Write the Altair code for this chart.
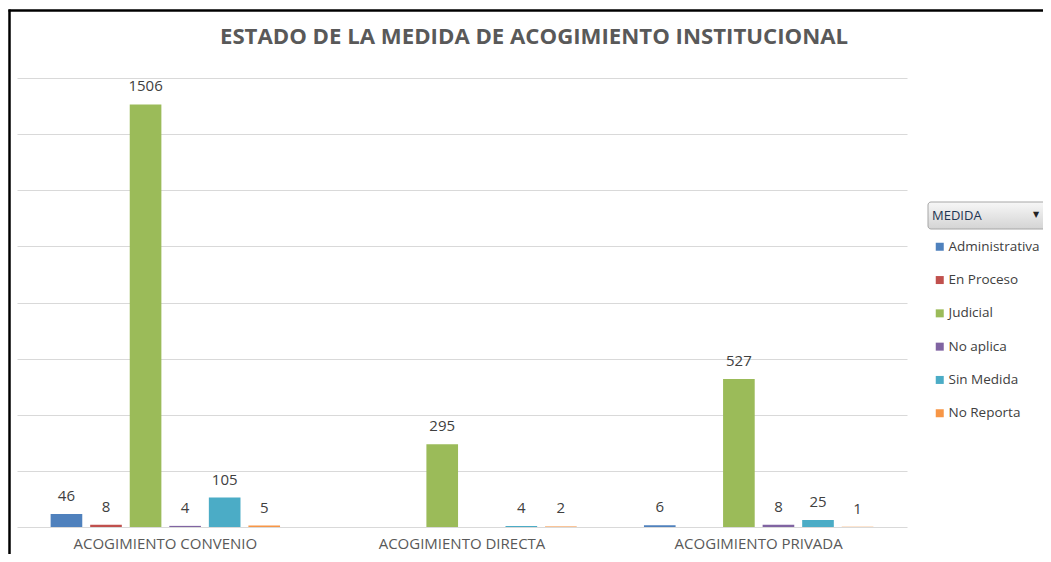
import altair as alt
import pandas as pd

title_text = "ESTADO DE LA MEDIDA DE ACOGIMIENTO INSTITUCIONAL"
categories = ["ACOGIMIENTO CONVENIO", "ACOGIMIENTO DIRECTA", "ACOGIMIENTO PRIVADA"]
series = ["Administrativa", "En Proceso", "Judicial", "No aplica", "Sin Medida", "No Reporta"]
colors = ["#4F81BD", "#C0504D", "#9BBB59", "#8064A2", "#4BACC6", "#F79646"]
convenio = [46, 8, 1506, 4, 105, 5]
directa = [None, None, 295, None, 4, 2]
privada = [6, None, 527, 8, 25, 1]
grid_values = [0, 200, 400, 600, 800, 1000, 1200, 1400, 1600]

rows = []
for cat, vals in zip(categories, [convenio, directa, privada]):
    for s, v in zip(series, vals):
        if v is not None:
            rows.append({"acogimiento": cat, "medida": s, "valor": v})
df = pd.DataFrame(rows)

FONT = "Open Sans"
W, H = 890, 449

x_enc = alt.X("acogimiento:N", sort=categories,
              scale=alt.Scale(paddingInner=0.2, paddingOuter=0.1),
              axis=alt.Axis(title=None, labelAngle=0, ticks=False, tickSize=0, domain=False,
                            labelPadding=9, labelFontSize=15, labelFont=FONT, labelLimit=400,
                            labelColor="#595959", grid=False))
xo_enc = alt.XOffset("medida:N", sort=series,
                     scale=alt.Scale(domain=series, paddingInner=0.2, paddingOuter=0.1))
y_enc = alt.Y("valor:Q", scale=alt.Scale(domain=[0, 1600], nice=False),
              axis=alt.Axis(title=None, labels=False, ticks=False, domain=False,
                            values=grid_values, grid=True, gridColor="#D9D9D9", gridWidth=1))

base = alt.Chart(df)
bars = base.mark_bar().encode(
    x=x_enc, xOffset=xo_enc, y=y_enc,
    color=alt.Color("medida:N", sort=series,
                    scale=alt.Scale(domain=series, range=colors),
                    legend=alt.Legend(title=None, orient="none", legendX=916, legendY=162,
                                      symbolType="square", symbolSize=64, symbolStrokeWidth=0,
                                      labelFont=FONT, labelFontSize=13.5, labelColor="#404040",
                                      labelOffset=2, rowPadding=18.3, padding=0, labelLimit=300)),
)
labels = base.mark_text(dy=-13, baseline="alphabetic", font=FONT, fontSize=15,
                        color="#404040").encode(
    x=x_enc, xOffset=xo_enc, y=y_enc, text=alt.Text("valor:Q"))

one = pd.DataFrame({"k": [0]})
border_left = alt.Chart(one).mark_rule(color="black", strokeWidth=2.5).encode(
    x=alt.value(-7.5), y=alt.value(-68.5), y2=alt.value(H + 40))
border_top = alt.Chart(one).mark_rule(color="black", strokeWidth=2.5).encode(
    x=alt.value(-8.5), x2=alt.value(W + 150), y=alt.value(-67.5))

title = alt.Chart(pd.DataFrame({"t": [title_text]})).mark_text(
    align="center", baseline="alphabetic", font=FONT, fontSize=22.2, fontWeight="bold",
    color="#595959"
).encode(x=alt.value(517), y=alt.value(-34), text="t:N")

header_box = alt.Chart(one).mark_rect(
    cornerRadius=3, stroke="#A6A6A6", strokeWidth=1,
    color=alt.Gradient(gradient="linear",
                       stops=[alt.GradientStop(color="#F7F7F7", offset=0),
                              alt.GradientStop(color="#D4D4D4", offset=1)],
                       x1=0, x2=0, y1=0, y2=1)
).encode(x=alt.value(911), x2=alt.value(1040), y=alt.value(124), y2=alt.value(151))
header_text = alt.Chart(pd.DataFrame({"t": ["MEDIDA"]})).mark_text(
    align="left", baseline="middle", font=FONT, fontSize=13, color="#1F3552"
).encode(x=alt.value(915), y=alt.value(138), text="t:N")
header_arrow = alt.Chart(pd.DataFrame({"t": ["▼"]})).mark_text(
    align="center", baseline="middle", font="DejaVu Sans", fontSize=8, color="#222222"
).encode(x=alt.value(1019), y=alt.value(137), text="t:N")

chart = alt.layer(
    bars, labels, border_left, border_top, title, header_box, header_text, header_arrow
).properties(
    width=W, height=H,
    background="white",
    autosize=alt.AutoSizeParams(type="none"),
    padding={"left": 9, "top": 70, "right": 136, "bottom": 27},
).configure_view(stroke="transparent", strokeWidth=0)

chart.save("out.html", embed_options={"renderer": "svg", "actions": False})
